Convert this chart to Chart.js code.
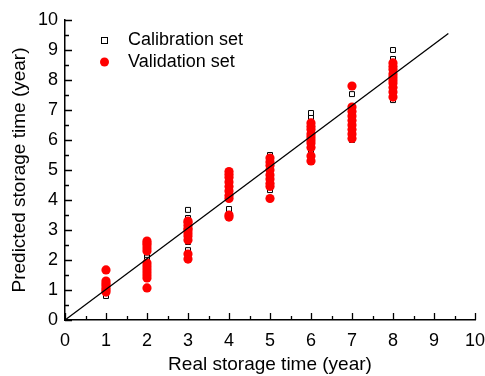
<!DOCTYPE html>
<html>
<head>
<meta charset="utf-8">
<script src="https://cdn.jsdelivr.net/npm/chart.js@4/dist/chart.umd.min.js"></script>
<style>
  html, body { margin: 0; padding: 0; background: #fff; }
  #wrap { width: 485px; height: 376px; }
</style>
</head>
<body>
<div id="wrap"><canvas id="scatter"></canvas></div>
<script>
// calibration set (hollow squares)
var calX = [1,1,1,1,1, 2,2,2,2,2, 3,3,3,3,3,3,3, 4,4,4,4,4,4,4, 5,5,5,5,5,5,5,5, 6,6,6,6,6,6,6,6, 7,7,7,7,7,7, 8,8,8,8,8,8,8];
var calY = [0.8,0.9,1.0,1.1,1.25, 1.95,2.05,2.1,2.17,2.25, 2.33,2.6,2.85,3.0,3.2,3.4,3.67, 3.57,3.7,4.4,4.5,4.65,4.8,4.95, 4.33,4.45,4.6,4.8,5.0,5.3,5.43,5.5, 5.27,5.4,5.65,5.9,6.3,6.6,6.77,6.9, 6.0,6.15,6.5,6.9,7.1,7.53, 7.33,7.5,7.8,8.2,8.5,8.7,9.0];

// validation set (red dots)
var valX = [1,1,1,1,1,1,1, 2,2,2,2,2,2,2,2,2,2,2,2, 3,3,3,3,3,3,3,3,3,3, 4,4,4,4,4,4,4,4,4,4, 5,5,5,5,5,5,5,5,5, 6,6,6,6,6,6,6,6,6,6, 7,7,7,7,7,7,7,7,7, 8,8,8,8,8,8,8,8,8,8];
var valY = [0.93,1.0,1.07,1.15,1.22,1.3,1.67, 1.07,1.4,1.5,1.6,1.7,1.8,1.9,2.3,2.4,2.5,2.57,2.63, 2.03,2.2,2.67,2.8,2.9,3.0,3.05,3.15,3.25,3.3, 3.43,3.5,4.05,4.15,4.3,4.45,4.6,4.75,4.85,4.95, 4.05,4.45,4.55,4.7,4.83,5.0,5.15,5.27,5.4, 5.3,5.47,5.75,5.9,6.0,6.1,6.2,6.35,6.45,6.57, 6.05,6.2,6.35,6.5,6.65,6.8,6.95,7.1,7.8, 7.43,7.6,7.75,7.9,8.0,8.1,8.2,8.35,8.45,8.57];

// fitted line end points
var lineX = [0, 9.35];
var lineY = [0, 9.55];

var xTicks = [0,1,2,3,4,5,6,7,8,9,10];
var yTicks = [0,1,2,3,4,5,6,7,8,9,10];

function pts(xs, ys) {
    var out = [];
    for (var i = 0; i < xs.length; i++) out.push({x: xs[i], y: ys[i]});
    return out;
}

var FONT = "'Liberation Sans', Arial, sans-serif";

// inward major/minor tick marks + legend inside the plot
var innerTicks = {
    id: 'innerTicks',
    afterDatasetsDraw: function(chart) {
        var c = chart.ctx, xs = chart.scales.x, ys = chart.scales.y;
        var b = chart.chartArea.bottom, l = chart.chartArea.left;
        c.save();
        c.strokeStyle = '#000';
        c.lineWidth = 1.3;
        c.beginPath();
        for (var v = 0; v <= 10; v += 0.5) {
            var len = (v % 1 === 0) ? 7 : 4;
            var px = Math.round(xs.getPixelForValue(v)) + 0.5;
            c.moveTo(px, b); c.lineTo(px, b - len);
            var py = Math.round(ys.getPixelForValue(v)) + 0.5;
            c.moveTo(l, py); c.lineTo(l + len, py);
        }
        c.stroke();
        c.restore();
    },
    afterDraw: function(chart) {
        var c = chart.ctx;
        var ds = chart.data.datasets;
        c.save();
        c.font = '18px ' + FONT;
        c.fillStyle = '#000';
        c.textBaseline = 'middle';
        c.strokeStyle = '#000';
        c.lineWidth = 1;
        c.strokeRect(101.5, 37.5, 6, 6);
        c.fillText(ds[2].label, 128, 40);
        c.fillStyle = 'red';
        c.beginPath();
        c.arc(104.5, 62, 4.5, 0, Math.PI * 2);
        c.fill();
        c.fillStyle = '#000';
        c.fillText(ds[1].label, 128, 62);
        c.restore();
    }
};

var ctx = document.getElementById('scatter');

var chart = new Chart(ctx, {
    type: 'scatter',
    data: {
        datasets: [{
            type: 'line',
            label: 'Fit',
            data: pts(lineX, lineY),
            borderColor: '#000',
            borderWidth: 1.3,
            pointRadius: 0,
            fill: false,
            order: 0
        }, {
            label: 'Validation set',
            data: pts(valX, valY),
            pointStyle: 'circle',
            pointRadius: 4.6,
            backgroundColor: 'red',
            borderColor: 'red',
            borderWidth: 0,
            order: 1
        }, {
            label: 'Calibration set',
            data: pts(calX, calY),
            pointStyle: 'rect',
            pointRadius: 3.5,
            backgroundColor: '#fff',
            borderColor: '#000',
            borderWidth: 1,
            order: 2
        }]
    },
    options: {
        responsive: true,
        maintainAspectRatio: false,
        animation: false,
        layout: { padding: { top: 20, right: 0, left: 8, bottom: 0 } },
        plugins: {
            legend: { display: false },
            tooltip: { enabled: false }
        },
        scales: {
            x: {
                type: 'linear',
                min: 0, max: 10,
                afterBuildTicks: function(s) { s.ticks = xTicks.map(function(v) { return {value: v}; }); },
                afterFit: function(s) { s.height = 56; s.paddingRight = 10; },
                grid: { display: false, drawTicks: false },
                border: { display: true, color: '#000', width: 1.5 },
                ticks: { color: '#000', font: { family: FONT, size: 18 }, padding: 10, maxRotation: 0 },
                title: { display: true, text: 'Real storage time (year)', color: '#000', font: { family: FONT, size: 19 }, padding: { top: 4, bottom: 0 } }
            },
            y: {
                type: 'linear',
                min: 0, max: 10,
                afterBuildTicks: function(s) { s.ticks = yTicks.map(function(v) { return {value: v}; }); },
                afterFit: function(s) { s.width = 57; },
                grid: { display: false, drawTicks: false },
                border: { display: true, color: '#000', width: 1.5 },
                ticks: { color: '#000', font: { family: FONT, size: 18 }, padding: 7 },
                title: { display: true, text: 'Predicted storage time (year)', color: '#000', font: { family: FONT, size: 19 }, padding: { top: 0, bottom: 2 } }
            }
        }
    },
    plugins: [innerTicks]
});
</script>
</body>
</html>
